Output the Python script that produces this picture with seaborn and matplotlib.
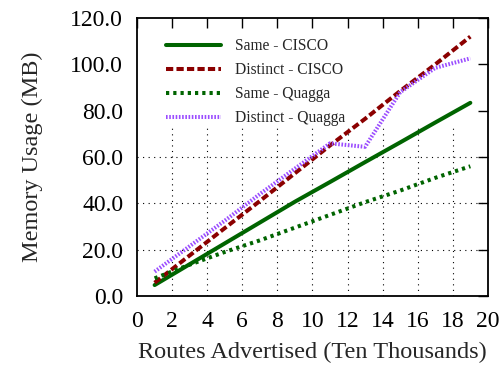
import seaborn as sns
import matplotlib
matplotlib.use("Agg")
import matplotlib.pyplot as plt
import pandas as pd

# routes advertised (ten thousands)
routes = [1, 3, 5, 7, 9, 11, 13, 15, 17, 19]

same_cisco = [4.7, 13.7, 22.7, 31.7, 40.7, 49.2, 57.8, 66.3, 74.9, 83.4]
distinct_cisco = [5.7, 17.5, 29.3, 41.0, 53.0, 65.0, 76.5, 88.5, 100.0, 112.0]
same_quagga = [7.6, 13.5, 19.0, 24.0, 29.5, 35.0, 40.5, 45.5, 51.0, 56.0]
distinct_quagga = [10.5, 21.5, 32.5, 44.0, 55.0, 65.9, 64.4, 88.0, 98.5, 102.6]

labels = ["Same - CISCO", "Distinct - CISCO", "Same - Quagga", "Distinct - Quagga"]
series = [same_cisco, distinct_cisco, same_quagga, distinct_quagga]
colors = ["#006400", "#8b0000", "#006400", "#9b4dff"]
dashes = [None, (1.8, 0.8), (0.8, 1.0), (0.4, 0.4)]

xticks = list(range(0, 21, 2))
yticks = list(range(0, 121, 20))
grid_top = 73.5  # grid is only drawn below the key

rows = []
for lab, vals in zip(labels, series):
    for x, y in zip(routes, vals):
        rows.append({"routes": x, "mem": y, "series": lab})
df = pd.DataFrame(rows)

sns.set_style("white")
plt.rcParams["font.family"] = ["Liberation Serif", "TeX Gyre Termes", "DejaVu Serif"]

fig, ax = plt.subplots(figsize=(5.04, 3.69), dpi=100)
fig.subplots_adjust(left=0.272, right=0.968, top=0.951, bottom=0.198)

# dotted grid, limited to the lower part of the plot
ax.vlines(xticks[1:-1], 0, grid_top, colors="black", linestyles=(0, (1, 4)),
          linewidth=0.8, zorder=1)
ax.hlines([v for v in yticks[1:-1] if v < grid_top], 0, 20, colors="black",
          linestyles=(0, (1, 4)), linewidth=0.8, zorder=1)

for lab, col, ds in zip(labels, colors, dashes):
    sub = df[df["series"] == lab]
    sns.lineplot(data=sub, x="routes", y="mem", ax=ax, color=col, lw=2.9,
                 label=lab, zorder=3)
    if ds is not None:
        ax.get_lines()[-1].set_dashes(ds)

ax.set_xlim(0, 20)
ax.set_ylim(0, 120)
ax.set_xticks(xticks)
ax.set_yticks(yticks)
ax.set_yticklabels([f"{v:.1f}" for v in yticks])
ax.tick_params(direction="in", length=7, width=1, top=True, right=True,
               labelsize=17, colors="black")
ax.tick_params(axis="x", pad=11)
ax.tick_params(axis="y", pad=10)
for s in ax.spines.values():
    s.set_visible(True)
    s.set_color("black")
    s.set_linewidth(1.3)

ax.set_xlabel("Routes Advertised (Ten Thousands)", fontsize=17.5, labelpad=7)
ax.set_ylabel("Memory Usage (MB)", fontsize=17.5, labelpad=20)

ax.legend(loc="upper left", bbox_to_anchor=(0.065, 0.95), frameon=False,
          fontsize=11.2, handlelength=3.5, borderaxespad=0.0,
          labelspacing=0.52, handletextpad=0.9)

fig.savefig("out.png", dpi=100)
